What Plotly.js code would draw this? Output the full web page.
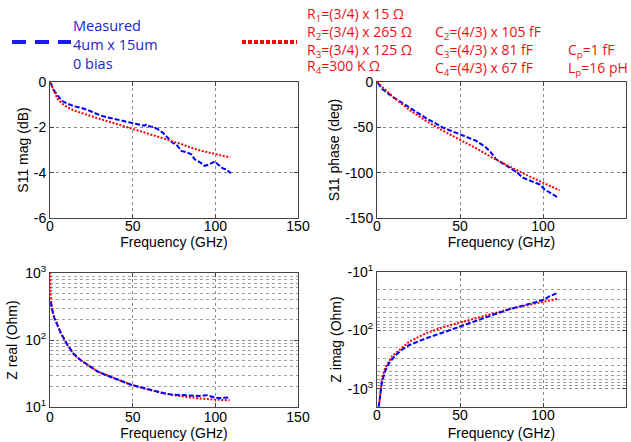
<!DOCTYPE html>
<html>
<head>
<meta charset="utf-8">
<script src="https://cdn.plot.ly/plotly-3.0.1.min.js"></script>
<style>html,body{margin:0;padding:0;background:#fff;}#chart{width:631px;height:442px;}</style>
</head>
<body>
<div id="chart"></div>
<script>
// ---------- data ----------
// S11 magnitude (dB)
const s11MagMeasFreq = [0.5,2.4,4.5,7.5,10.5,14.6,18.6,22.7,26.7,30.8,34.8,38.9,42.9,47,51,55,57,58.5,60,62,65,68,71,74,77,79.5,83,85.5,87.5,90.5,93.5,96.5,99.5,101.5,104.5,106.5,109.5];
const s11MagMeas     = [-0.05,-0.37,-0.59,-0.84,-0.96,-1.07,-1.14,-1.23,-1.36,-1.48,-1.56,-1.63,-1.70,-1.76,-1.83,-1.90,-1.93,-1.87,-1.95,-1.98,-2.07,-2.22,-2.44,-2.67,-2.81,-3.04,-3.11,-3.19,-3.41,-3.53,-3.70,-3.63,-3.51,-3.63,-3.81,-3.85,-4.03];
const s11MagModelFreq = [0,2.4,4.5,7.5,10.5,14.6,18.6,28.7,38.9,49,59.1,69.2,74.3,79.4,89.5,99.6,109];
const s11MagModel     = [0,-0.44,-0.74,-0.96,-1.11,-1.26,-1.36,-1.60,-1.82,-2.04,-2.27,-2.50,-2.63,-2.74,-3.00,-3.18,-3.33];

// S11 phase (deg)
const s11PhMeasFreq = [0.5,3,9.1,19.2,29.3,39.4,49.5,59.6,65.7,68.7,71.7,75.8,79.8,83.8,87.9,91.9,94.9,98,101,104,109.5];
const s11PhMeas     = [-1,-7.4,-15.9,-27.8,-39.6,-50,-57.4,-64.8,-72.2,-77.8,-85.2,-90,-94.4,-98.9,-105.6,-108.5,-110,-113,-118.5,-122,-128];
const s11PhModelFreq = [0,5,10,20,30,40,50,60,70,80,90,100,110];
const s11PhModel     = [0,-8.5,-17,-31.5,-43.5,-54,-63.5,-73.5,-84,-93.5,-102.5,-111,-119.5];

// Z real (Ohm)
const zReMeasFreq = [0.5,1,2.4,4.5,6.5,10.5,14.6,18.6,22.7,28.7,33,38.9,44,49,54,59.1,64,69.2,74,79.4,84,87,90,93,95,97,99.6,102,105,108.7];
const zReMeas     = [370,300,220,168,128,85,61,50,42.5,34,30.5,27,24,21.5,20,18.5,17,16,15.3,15,14.7,14.8,14.6,14.9,15.0,14.5,13.8,13.6,13.8,13.9];
const zReModelFreq = [0.1,0.4,1,2.4,4.5,6.5,10.5,14.6,18.6,22.7,28.7,38.9,49,59.1,69.2,79.4,89.5,99.6,108.7];
const zReModel     = [1500,450,330,225,168,126,84,60,50,42.5,34,27,21.5,18.3,15.9,14.5,13.5,12.9,12.6];

// Z imag (Ohm, negative)
const zImMeasFreq = [1,2,3,5.1,7.1,11.1,15.2,19.2,29.3,39.4,49.5,59.6,69.7,79.8,89.9,100,104,109];
const zImMeas     = [-2060,-1230,-767,-484,-370,-268,-213,-180,-138,-110,-87,-68.7,-56,-43.3,-36.4,-30.3,-26,-22.7];
const zImModelFreq = [0.8,2,3,5,9.1,19.2,29.3,39.4,49.5,59.6,69.7,79.8,89.9,100,109];
const zImModel     = [-2600,-1100,-650,-440,-278,-158,-113,-89,-74,-61,-51.3,-43.3,-37.4,-32.8,-28.7];

const xTickVals = [0,50,100,150];
const magTickVals = [0,-2,-4,-6];
const magTickText = ['0','-2','-4','-6'];
const phTickVals = [0,-50,-100,-150];
const phTickText = ['0','-50','-100','-150'];
const zReTickVals = [10,100,1000];
const zReTickText = ['10<sup>1</sup>','10<sup>2</sup>','10<sup>3</sup>'];
const zImTickVals = [10,100,1000];
const zImTickText = ['-10<sup>1</sup>','-10<sup>2</sup>','-10<sup>3</sup>'];
const logMinor = [20,30,40,50,60,70,80,90,200,300,400,500,600,700,800,900,2000];

// legend / annotation texts
const measLegendText = ['Measured','4um x 15um','0 bias'];
const rText  = ['R<sub>1</sub>=(3/4) x 15 Ω','R<sub>2</sub>=(3/4) x 265 Ω','R<sub>3</sub>=(3/4) x 125 Ω'];
const r4Text = 'R<sub>4</sub>=300 K Ω';
const cText  = ['C<sub>2</sub>=(4/3) x 105 fF','C<sub>3</sub>=(4/3) x 81 fF','C<sub>4</sub>=(4/3) x 67 fF'];
const pText  = ['C<sub>p</sub>=1 fF','L<sub>p</sub>=16 pH'];

// ---------- styling ----------
const BLUE = '#0000ff', RED = '#ff0000';
const FONT = 'Liberation Sans, Arial, sans-serif';
const FS = 14;
const measLine = {color: BLUE, width: 2, dash: '5px,2px'};
const modelLine = {color: RED, width: 2, dash: '2px,1.6px'};

function axis(extra) {
  return Object.assign({
    showline: true, linecolor: '#444', linewidth: 1, mirror: 'ticks',
    ticks: 'inside', ticklen: 4, tickcolor: '#444',
    showgrid: true, gridcolor: '#8a8a8a', griddash: 'dot', gridwidth: 1,
    zeroline: false, fixedrange: true,
    tickfont: {family: FONT, size: FS, color: '#000'}
  }, extra);
}
function xAx(domain, anchor, lblOff, titleOff) {
  return axis({domain: domain, anchor: anchor, range: [0,150], tickmode: 'array', tickvals: xTickVals,
    ticklabelstandoff: lblOff,
    title: {text: 'Frequency (GHz)', font: {family: FONT, size: FS, color: '#000'}, standoff: titleOff}});
}
function yTitle(t, s) { return {text: t, font: {family: FONT, size: FS, color: '#000'}, standoff: s}; }

const W = 631, H = 442;
const px = (a,b) => [a/W, b/W];
const py = (top,bot) => [1-bot/H, 1-top/H];

const traces = [
  {x: s11MagMeasFreq, y: s11MagMeas, xaxis:'x', yaxis:'y', mode:'lines', line: measLine, name:'Measured'},
  {x: s11MagModelFreq, y: s11MagModel, xaxis:'x', yaxis:'y', mode:'lines', line: modelLine, name:'Model'},
  {x: s11PhMeasFreq, y: s11PhMeas, xaxis:'x2', yaxis:'y2', mode:'lines', line: measLine, name:'Measured'},
  {x: s11PhModelFreq, y: s11PhModel, xaxis:'x2', yaxis:'y2', mode:'lines', line: modelLine, name:'Model'},
  {x: zReModelFreq, y: zReModel, xaxis:'x3', yaxis:'y3', mode:'lines', line: modelLine, name:'Model'},
  {x: zReMeasFreq, y: zReMeas, xaxis:'x3', yaxis:'y3', mode:'lines', line: measLine, name:'Measured'},
  {x: zImModelFreq, y: zImModel.map(v => -v), xaxis:'x4', yaxis:'y4', mode:'lines', line: modelLine, name:'Model'},
  {x: zImMeasFreq, y: zImMeas.map(v => -v), xaxis:'x4', yaxis:'y4', mode:'lines', line: measLine, name:'Measured'}
];

const minorGrid = {showgrid: true, gridcolor: '#a0a0a0', griddash: 'dot', gridwidth: 1, tickmode: 'array', tickvals: logMinor, ticks: ''};

const layout = {
  width: W, height: H, margin: {l:0, r:0, t:0, b:0},
  paper_bgcolor: '#fff', plot_bgcolor: '#fff', showlegend: false,
  font: {family: FONT, size: FS, color: '#000'},
  xaxis:  xAx(px(50,298), 'y', -5, 4),
  xaxis2: xAx(px(377,626), 'y2', -5, 4),
  xaxis3: xAx(px(50,298), 'y3', -3, 4),
  xaxis4: xAx(px(377,626), 'y4', -5, 6),
  yaxis:  axis({domain: py(82,218), anchor:'x', range:[-6,0], tickmode:'array', tickvals: magTickVals, ticktext: magTickText, title: yTitle('S11 mag (dB)', 1)}),
  yaxis2: axis({domain: py(82,218), anchor:'x2', range:[-150,0], tickmode:'array', tickvals: phTickVals, ticktext: phTickText, title: yTitle('S11 phase (deg)', 2)}),
  yaxis3: axis({domain: py(273,407), anchor:'x3', type:'log', range:[1,3], tickmode:'array', tickvals: zReTickVals, ticktext: zReTickText, minor: minorGrid, title: yTitle('Z real (Ohm)', 4)}),
  yaxis4: axis({domain: py(272,407), anchor:'x4', type:'log', range:[3.315,1], tickmode:'array', tickvals: zImTickVals, ticktext: zImTickText, minor: minorGrid, title: yTitle('Z imag (Ohm)', 2)}),
  shapes: [
    {type:'line', xref:'paper', yref:'paper', x0: 12/W, x1: 71/W, y0: 1-42/H, y1: 1-42/H, line:{color:'#1a1aff', width:4, dash:'14px,9px'}},
    {type:'line', xref:'paper', yref:'paper', x0: 242/W, x1: 297/W, y0: 1-42/H, y1: 1-42/H, line:{color:RED, width:4, dash:'4px,2px'}}
  ],
  annotations: []
};

const LEG_FONT = 'Open Sans, Noto Sans, sans-serif';
function block(lines, x, yTop, color, size) {
  layout.annotations.push({text: lines.join('<br>'), xref:'paper', yref:'paper', x: x/W, y: 1-yTop/H,
    xanchor:'left', yanchor:'top', align:'left', showarrow:false, borderpad: 0,
    font:{family: LEG_FONT, size: size, color: color}});
}
const BLUE_T = '#2323cc', RED_T = '#ee1111';
block(measLegendText, 72, 15, BLUE_T, 14.5);
block(rText, 306, 3, RED_T, 14);
layout.annotations.push({text: r4Text, xref:'paper', yref:'paper', x: 306/W, y: 1-66/H,
  xanchor:'left', yanchor:'middle', align:'left', showarrow:false, borderpad: 0,
  font:{family: LEG_FONT, size: 14, color: RED_T}});
block(cText, 434, 21, RED_T, 14);
block(pText, 567, 39, RED_T, 14);

Plotly.newPlot('chart', traces, layout, {displayModeBar: false, staticPlot: true});
</script>
</body>
</html>
